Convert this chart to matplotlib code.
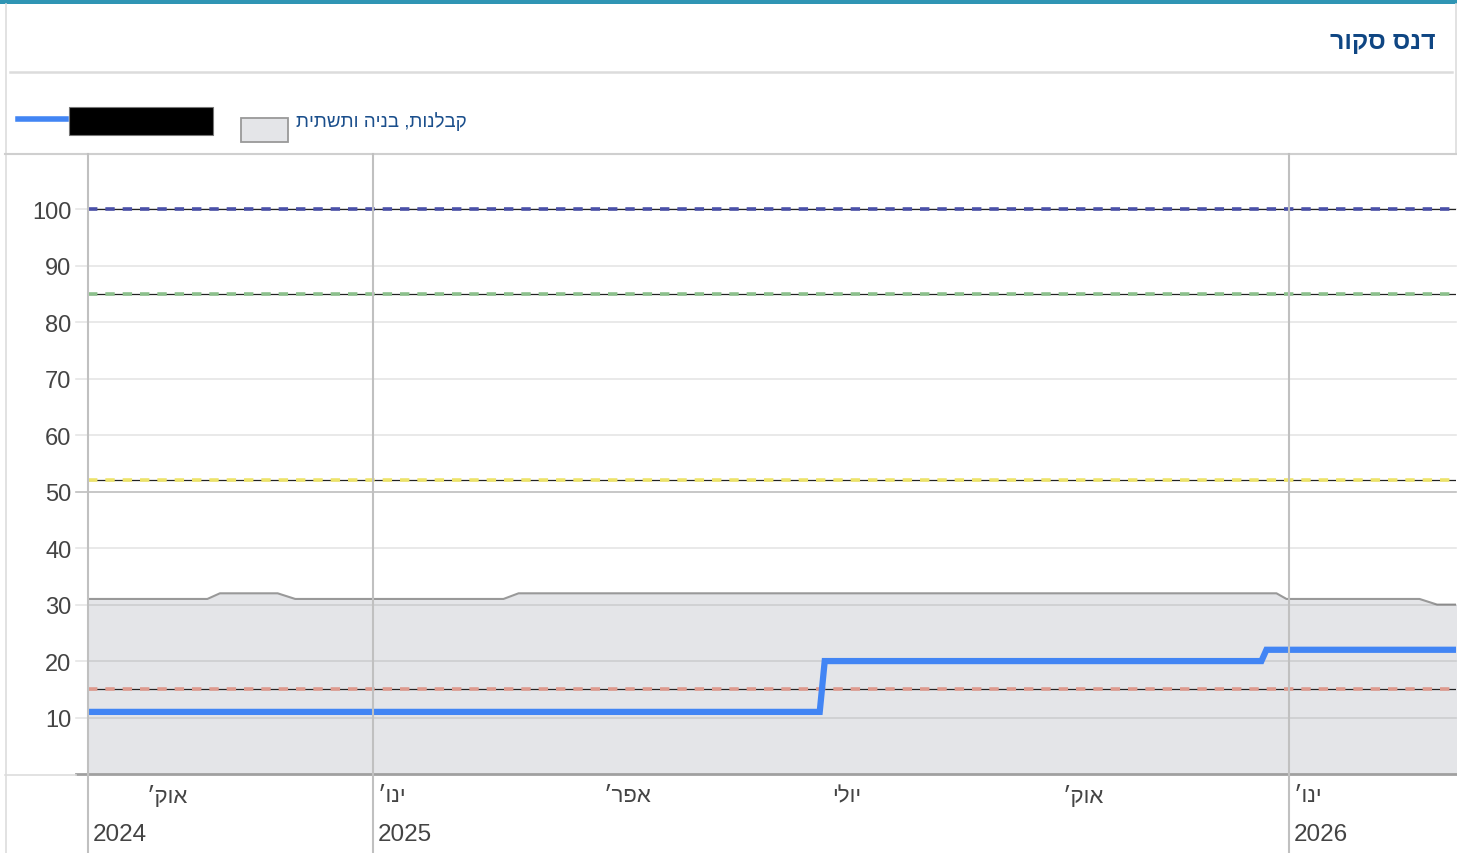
import numpy as np
import pandas as pd
import matplotlib
matplotlib.use('Agg')
import matplotlib.pyplot as plt
import matplotlib.transforms as mtransforms
from matplotlib.lines import Line2D
from matplotlib.patches import Rectangle

plt.rcParams['font.family'] = ['Liberation Sans', 'DejaVu Sans']

# Data

title = 'דנס סקור'
sector_label = 'קבלנות, בניה ותשתית'

sector_dates = ['2024-09-09', '2024-10-27', '2024-11-01', '2024-11-24', '2024-12-01',
                '2025-02-22', '2025-02-28', '2025-12-27', '2025-12-31',
                '2026-02-22', '2026-03-01', '2026-03-09']
sector_values = [31, 31, 32, 32, 31, 31, 32, 32, 31, 31, 30, 30]

score_dates = ['2024-09-09', '2025-06-28', '2025-06-30', '2025-12-21', '2025-12-23', '2026-03-09']
score_values = [11, 11, 20, 20, 22, 22]

threshold_values = [100, 85, 52, 15]
threshold_colors = ['#4a50a8', '#8cc08c', '#ede36a', '#de9a8e']

y_ticks = [10, 20, 30, 40, 50, 60, 70, 80, 90, 100]

month_ticks = ['2024-10-01', '2025-01-01', '2025-04-01', '2025-07-01', '2025-10-01', '2026-01-01']
month_labels = ['אוק׳', 'ינו׳', 'אפר׳', 'יולי', 'אוק׳', 'ינו׳']
year_ticks = ['2024-09-09', '2025-01-01', '2026-01-01']
year_labels = ['2024', '2025', '2026']

x_start = pd.Timestamp('2024-09-09 10:30')
x_end = pd.Timestamp('2026-03-08 13:00')


def heb(s):
    # matplotlib has no bidi, so hand it the visual order
    return s[::-1]


W, H = 1457, 854
fig = plt.figure(figsize=(W / 100, H / 100), dpi=100)
fig.patch.set_facecolor('white')


def fx(x):
    return x / W


def fy(y):
    return 1 - y / H


def hline(y, x0, x1, color, lw):
    fig.add_artist(Line2D([fx(x0), fx(x1)], [fy(y), fy(y)], color=color, lw=lw,
                          transform=fig.transFigure))


def vline(x, y0, y1, color, lw):
    fig.add_artist(Line2D([fx(x), fx(x)], [fy(y0), fy(y1)], color=color, lw=lw,
                          transform=fig.transFigure))


# Frame, header, legend

fig.add_artist(Rectangle((0, fy(5)), 1, 5 / H, facecolor='#2f95b4', edgecolor='none',
                         transform=fig.transFigure))
vline(5.5, 5, H, '#dddddd', 1.2)
vline(1455.5, 5, 155, '#dddddd', 1.2)
hline(73, 10, 1452, '#dcdcdc', 1.8)
hline(155, 5, 1456, '#cfcfcf', 1.5)

fig.text(fx(1436), fy(42), heb(title), ha='right', va='center', fontsize=18,
         fontweight='bold', color='#0f4683')

hline(120, 18, 66, '#4285f4', 4)
fig.add_artist(Rectangle((fx(69), fy(136)), 144 / W, 28 / H, facecolor='black',
                         edgecolor='#777777', lw=0.8, transform=fig.transFigure))
fig.add_artist(Rectangle((fx(241), fy(143)), 47 / W, 24 / H, facecolor='#e4e5e8',
                         edgecolor='#999999', lw=1.3, transform=fig.transFigure))
fig.text(fx(296), fy(122), heb(sector_label), ha='left', va='center', fontsize=13.5,
         color='#1b4f8c')

# Plot area

ax = fig.add_axes([fx(88), fy(775), (1456 - 88) / W, (775 - 155) / H])
ax.set_xlim(x_start, x_end)
ax.set_ylim(0, 109.8)
for sp in ax.spines.values():
    sp.set_visible(False)
ax.set_xticks([])
ax.set_yticks(y_ticks)
ax.set_yticklabels([str(v) for v in y_ticks])
ax.tick_params(axis='y', length=0, pad=12, labelsize=17, labelcolor='#444444')

sd = pd.to_datetime(sector_dates)
ax.fill_between(sd, sector_values, 0, color='#e4e5e8', lw=0, zorder=1)
ax.plot(sd, sector_values, color='#999999', lw=1.5, zorder=2)

tick_len = 12 / (1456 - 88)
for v in y_ticks:
    c = '#bdbdbd' if v == 50 else 'black'
    a = 1 if v == 50 else 0.1
    ax.axhline(v, xmin=-tick_len, xmax=1, color=c, alpha=a, lw=1.2, clip_on=False, zorder=3)
ax.axhline(0, xmin=-tick_len, xmax=1, color='#a0a0a0', lw=2, clip_on=False, zorder=3)
hline(776, 5, 76, '#dddddd', 1.2)

for v, c in zip(threshold_values, threshold_colors):
    ax.axhline(v, color='#222222', lw=0.9, zorder=4)
    ax.axhline(v, color=c, lw=2.6, dashes=(2.6, 2.2), zorder=5)

ax.plot(pd.to_datetime(score_dates), score_values, color='#4285f4', lw=4.5,
        solid_joinstyle='miter', zorder=6)

# Year gridlines run from the plot top to the bottom of the card
for d in year_ticks:
    xd = matplotlib.dates.date2num(pd.Timestamp(d))
    xp = ax.transData.transform((xd, 0))[0]
    if d == year_ticks[0]:
        xp = ax.transAxes.transform((0, 0))[0]
    fig.add_artist(Line2D([xp / W, xp / W], [0, fy(155)], color='#c0c0c0', lw=1.5,
                          transform=fig.transFigure, zorder=7))

# Month and year labels (y in axes units below the plot)
shift = mtransforms.offset_copy(ax.get_xaxis_transform(), fig=fig, x=5, y=0, units='dots')
plot_h = 775 - 155
for d, lab in zip(month_ticks, month_labels):
    ax.text(pd.Timestamp(d), -22 / plot_h, heb(lab), transform=shift, ha='left', va='center',
            fontsize=16, color='#444444', clip_on=False)
for d, lab in zip(year_ticks, year_labels):
    xv = max(pd.Timestamp(d), x_start)
    ax.text(xv, -60 / plot_h, lab, transform=shift, ha='left', va='center',
            fontsize=17.5, color='#444444', clip_on=False)

fig.savefig('out.png', dpi=100)
